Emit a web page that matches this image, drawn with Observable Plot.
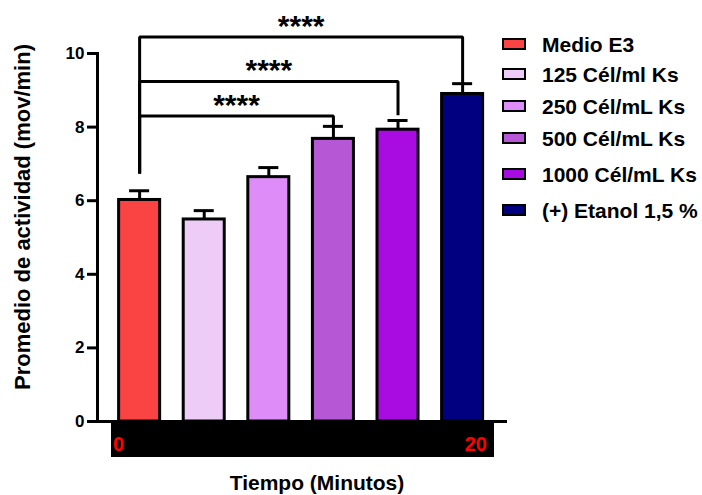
<!DOCTYPE html>
<html><head><meta charset="utf-8">
<script src="https://cdn.jsdelivr.net/npm/d3@7"></script>
<script src="https://cdn.jsdelivr.net/npm/@observablehq/plot@0.6"></script>
<style>
body{margin:0;background:#fff;}
#wrap{position:relative;width:702px;height:495px;font-family:"Liberation Sans",Arial,Helvetica,sans-serif;font-weight:bold;color:#000;overflow:hidden;}
#wrap svg{position:absolute;left:0;top:0;font-family:"Liberation Sans",Arial,sans-serif;font-weight:bold;}
.ylab{position:absolute;left:23px;top:217px;transform:translate(-50%,-50%) rotate(-90deg);white-space:nowrap;font-size:22px;line-height:1;}
.xlab{position:absolute;left:317px;top:472px;transform:translateX(-50%);white-space:nowrap;font-size:21px;line-height:1;}
.band{position:absolute;left:111px;top:423px;width:383px;height:34px;background:#000;}
.band span{position:absolute;top:11px;color:#ff0000;font-size:20px;line-height:1;}
.legend{position:absolute;left:502px;top:0;}
.legend .row{position:absolute;left:0;display:flex;align-items:center;white-space:nowrap;height:24px;}
.legend .sw{box-sizing:border-box;width:24px;height:12px;border:2.5px solid #000;margin-right:16px;}
.legend .tx{font-size:21px;line-height:1;}
</style></head><body><div id="wrap"></div>
<script>
// ---- data ----
const categories = ["Medio E3", "125 Cél/ml Ks", "250 Cél/mL Ks", "500 Cél/mL Ks", "1000 Cél/mL Ks", "(+) Etanol 1,5 %"];
const means = [6.02, 5.49, 6.64, 7.68, 7.93, 8.90];
const sems = [0.25, 0.24, 0.26, 0.34, 0.25, 0.28];
const colors = ["#FA4343", "#EDCDF7", "#DE8CF8", "#B657D6", "#A80CE0", "#000080"];
const yTicks = [0, 2, 4, 6, 8, 10];
const bracketFrom = ["Medio E3", "Medio E3", "Medio E3"];
const bracketTo = ["500 Cél/mL Ks", "1000 Cél/mL Ks", "(+) Etanol 1,5 %"];
const bracketLevel = [8.30, 9.24, 10.45];
const bracketEnd = [8.02, 8.32, 9.18];
const bracketStart = 6.74;
const starLabels = ["****", "****", "****"];
const timeLabels = ["0", "20"];
const yLabel = "Promedio de actividad (mov/min)";
const xLabel = "Tiempo (Minutos)";

// ---- build ----
const data = categories.map((c, i) => ({cat: c, mean: means[i], upper: means[i] + sems[i]}));
const bracketPts = [];
bracketFrom.forEach((f, k) => {
  bracketPts.push({k, x: f, y: bracketStart});
  bracketPts.push({k, x: f, y: bracketLevel[k]});
  bracketPts.push({k, x: bracketTo[k], y: bracketLevel[k]});
  bracketPts.push({k, x: bracketTo[k], y: bracketEnd[k]});
});

const W = 702, H = 495, mL = 97, mR = 195, mT = 53, mB = 74;
const xOpts = {paddingInner: 0.365, paddingOuter: 0.356, align: 0.47, round: false};
// mirror of the band scale to locate bracket midpoints
const xb = d3.scaleBand().domain(categories).range([mL, W - mR])
  .paddingInner(xOpts.paddingInner).paddingOuter(xOpts.paddingOuter).align(xOpts.align);
const starMarks = bracketFrom.map((f, k) => {
  const dx = (xb(bracketTo[k]) - xb(f)) / 2;
  return Plot.text([{x: f, y: bracketLevel[k], t: starLabels[k]}], {
    x: "x", y: "y", text: "t", dx, dy: -11, fontSize: 30, fontWeight: "bold", fill: "black"
  });
});

const chart = Plot.plot({
  width: W, height: H,
  marginLeft: mL, marginRight: mR, marginTop: mT, marginBottom: mB,
  x: {domain: categories, ...xOpts, axis: null},
  y: {domain: [0, 10], axis: null},
  color: {domain: categories, range: colors},
  marks: [
    Plot.ruleX(data, {x: "cat", y1: "mean", y2: "upper", stroke: "black", strokeWidth: 3}),
    Plot.tickY(data, {x: "cat", y: "upper", stroke: "black", strokeWidth: 3, insetLeft: 10.5, insetRight: 10.5}),
    Plot.barY(data, {x: "cat", y: "mean", fill: "cat", stroke: "black", strokeWidth: 3}),
    Plot.line(bracketPts, {x: "x", y: "y", z: "k", stroke: "black", strokeWidth: 3, strokeLinejoin: "miter", strokeLinecap: "butt"}),
    ...starMarks,
    Plot.axisY(yTicks, {tickSize: 10, tickPadding: 3, strokeWidth: 3, fontSize: 17, fontWeight: "bold", label: null, tickFormat: d => String(d)}),
    Plot.frame({anchor: "left", strokeWidth: 3}),
    Plot.ruleY([0], {strokeWidth: 3})
  ]
});

const wrap = document.getElementById("wrap");
wrap.appendChild(chart);

const yl = document.createElement("div"); yl.className = "ylab"; yl.textContent = yLabel; wrap.appendChild(yl);
const xl = document.createElement("div"); xl.className = "xlab"; xl.textContent = xLabel; wrap.appendChild(xl);

const band = document.createElement("div"); band.className = "band";
const t0 = document.createElement("span"); t0.textContent = timeLabels[0]; t0.style.left = "2px";
const t1 = document.createElement("span"); t1.textContent = timeLabels[1]; t1.style.right = "7px";
band.appendChild(t0); band.appendChild(t1); wrap.appendChild(band);

const legend = document.createElement("div"); legend.className = "legend";
const rowTops = [32, 62, 94, 126, 162, 198];
categories.forEach((c, i) => {
  const r = document.createElement("div"); r.className = "row"; r.style.top = rowTops[i] + "px";
  const s = document.createElement("div"); s.className = "sw"; s.style.background = colors[i];
  const t = document.createElement("div"); t.className = "tx"; t.textContent = c;
  r.appendChild(s); r.appendChild(t); legend.appendChild(r);
});
wrap.appendChild(legend);
</script></body></html>
